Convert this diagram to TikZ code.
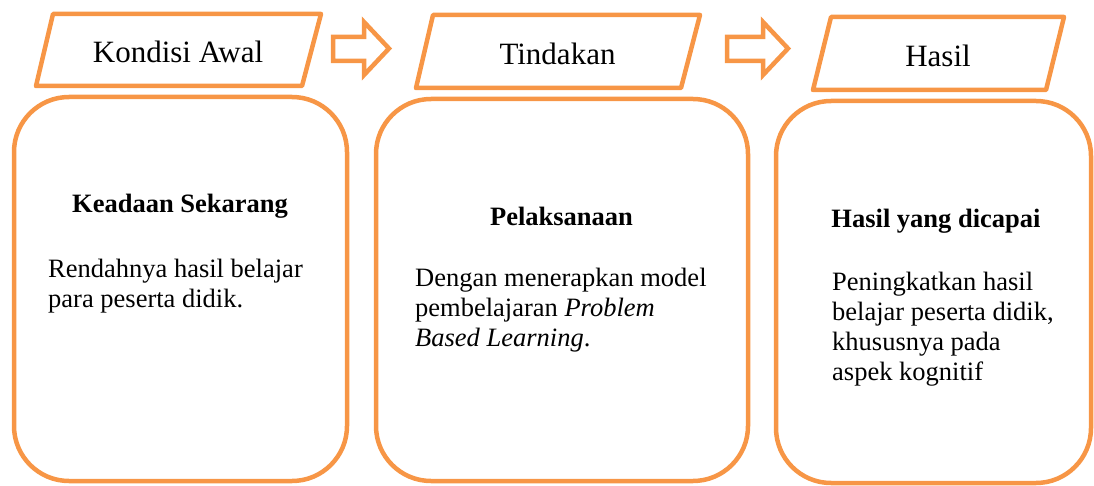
\documentclass[tikz,border=0pt]{standalone}
\usepackage{fontspec}
\setmainfont{Liberation Serif}
\definecolor{accent}{HTML}{F79646}
\begin{document}
\begin{tikzpicture}[x=1pt,y=-1pt,
  frame/.style={draw=accent,line width=4.5pt,line join=round},
  roundbox/.style={frame,rounded corners=55pt},
  blockarrow/.style={frame,line join=miter},
  title/.style={inner sep=0pt,anchor=base,font=\fontsize{31}{36}\selectfont},
  heading/.style={inner sep=0pt,anchor=base,font=\fontsize{26.5}{30}\selectfont\bfseries},
  body/.style={inner sep=0pt,anchor=base west,align=left,font=\fontsize{26.5}{29.7}\selectfont}]
\useasboundingbox (0,0) rectangle (1094,486);
% parallelograms
\draw[frame] (53,14) -- (321,14) -- (302,86) -- (36,86) -- cycle;
\draw[frame] (433,15) -- (700,15) -- (681,88) -- (416,88) -- cycle;
\draw[frame] (831,17) -- (1064,17) -- (1046,90) -- (813,90) -- cycle;
\node[title] (t1) at (178,63) {Kondisi Awal};
\node[title] (t2) at (557.5,64.5) {Tindakan};
\node[title] (t3) at (938,66.5) {Hasil};
% block arrows
\draw[blockarrow] (333,37) -- (364,37) -- (364,22) -- (389,48.5) -- (364,75) -- (364,61) -- (333,61) -- cycle;
\draw[blockarrow] (727,37) -- (763,37) -- (763,22) -- (788,48.5) -- (763,75) -- (763,61) -- (727,61) -- cycle;
% rounded boxes
\draw[roundbox] (14,97) rectangle (347,481);
\draw[roundbox] (376,99) rectangle (748,481);
\draw[roundbox] (776,101) rectangle (1091,483);
% texts
\node[heading] (h1) at (180,213) {Keadaan Sekarang};
\node[heading] (h2) at (561.5,226) {Pelaksanaan};
\node[heading] (h3) at (936,228) {Hasil yang dicapai};
\node[body] (b1) at (48,307) {Rendahnya hasil belajar\\para peserta didik.};
\node[body] (b2) at (415,346) {Dengan menerapkan model\\pembelajaran \textit{Problem}\\\textit{Based Learning}.};
\node[body] (b3) at (832,380) {Peningkatkan hasil\\belajar peserta didik,\\khususnya pada\\aspek kognitif};
\end{tikzpicture}
\end{document}
